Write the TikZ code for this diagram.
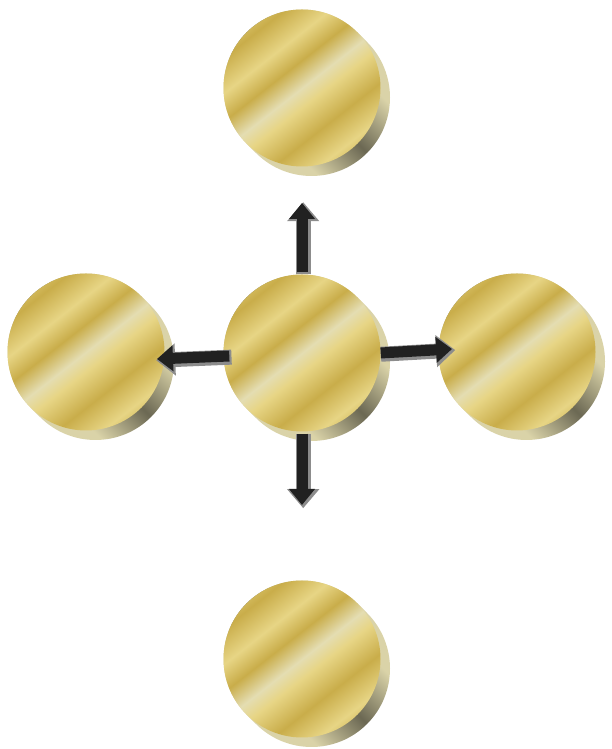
\documentclass[tikz,border=0pt]{standalone}
\usetikzlibrary{arrows.meta}

\definecolor{golddark}{HTML}{C9AD4A}
\definecolor{goldlight}{HTML}{E7D585}
\definecolor{goldpale}{HTML}{E4DDB2}
\definecolor{sidelight}{HTML}{DAD3A8}
\definecolor{sidedark}{HTML}{6B6853}

\pgfdeclarehorizontalshading{goldface}{100bp}{color(0bp)=(goldlight); color(18bp)=(goldlight);
  color(27bp)=(golddark); color(36bp)=(goldlight); color(43bp)=(golddark); color(50bp)=(goldpale);
  color(55bp)=(goldlight); color(64bp)=(golddark); color(73bp)=(goldlight); color(80bp)=(golddark);
  color(86bp)=(goldlight); color(100bp)=(goldlight)}
\pgfdeclarehorizontalshading{goldside}{100bp}{color(0bp)=(sidelight); color(36bp)=(sidelight);
  color(50bp)=(sidedark); color(64bp)=(sidelight); color(100bp)=(sidelight)}

\tikzset{
  face/.style={circle, minimum size=157pt, inner sep=0pt, shading=goldface, shading angle=-52},
  arrowrim/.style={draw=black!45, line width=15pt, shorten >=-2pt, shorten <=-1pt,
    -{Triangle[length=19pt,width=31pt]}, transform canvas={shift={(1.2pt,-1.2pt)}}},
  arrowbody/.style={draw=black!87, line width=11pt, -{Triangle[length=16pt,width=25pt]}}
}

\begin{document}
\begin{tikzpicture}[x=1pt,y=1pt]

\useasboundingbox (0,0) rectangle (612,749);

\coordinate (T) at (302,661);
\coordinate (M) at (302,396);
\coordinate (L) at (86,397);
\coordinate (R) at (517,397);
\coordinate (B) at (302,90);

% coin edges
\foreach \c in {T,M,L,R,B}
  \shade [shading=goldside, shading angle=45]
  ([shift={(45:78.5)}]\c) arc [start angle=45, end angle=225, radius=78.5]
  -- ++(9.5,-9.5) arc [start angle=225, end angle=405, radius=78.5] -- cycle;

% coin faces
\node [face] (top) at (T) {};
\node [face] (mid) at (M) {};
\node [face] (left) at (L) {};
\node [face] (right) at (R) {};
\node [face] (bottom) at (B) {};

\coordinate (uptip) at (302,546);
\coordinate (downtip) at (302,244);
\coordinate (lefttip) at (157,390);
\coordinate (righttip) at (452,400);

% arrows
\draw [arrowrim] ([yshift=2pt]mid.north) -- (uptip);
\draw [arrowbody] ([yshift=2pt]mid.north) -- (uptip);
\draw [arrowrim] ([yshift=-2pt]mid.south) -- (downtip);
\draw [arrowbody] ([yshift=-2pt]mid.south) -- (downtip);
\draw [arrowrim] ([shift={(6,-3)}]mid.west) -- (lefttip);
\draw [arrowbody] ([shift={(6,-3)}]mid.west) -- (lefttip);
\draw [arrowrim] (mid.east) -- (righttip);
\draw [arrowbody] (mid.east) -- (righttip);

\end{tikzpicture}
\end{document}
